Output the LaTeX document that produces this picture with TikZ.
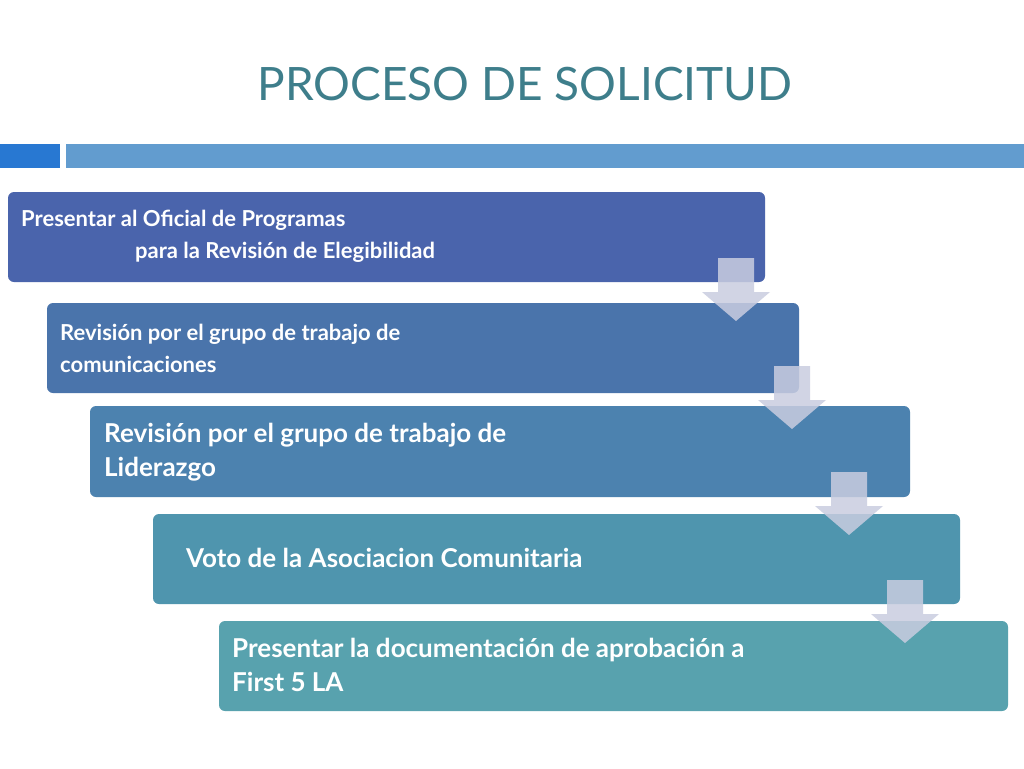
\documentclass[tikz,border=0pt]{standalone}
\usepackage{fontspec}
\setmainfont{Lato}
\begin{document}
\begin{tikzpicture}[x=1pt,y=-1pt,
 box/.style={rounded corners=6pt},
 txt/.style={anchor=west,align=left,text=white,font=\bfseries,inner sep=0pt},
 arr/.style={fill=arrc,fill opacity=0.85,draw=none}]
\definecolor{arrc}{HTML}{C9CDE0}
\useasboundingbox (0,0) rectangle (1024,768);
\fill[white] (0,0) rectangle (1024,768);
\node[font=\fontsize{46}{50}\selectfont,text=teal!60!black!80!cyan,anchor=center,inner sep=0pt] (title) at (525,84) {\color[HTML]{3E7E8B}PROCESO DE SOLICITUD};
\fill[fill={rgb,255:red,40;green,120;blue,210}] (0,144) rectangle (60,168);
\fill[fill={rgb,255:red,98;green,156;blue,207}] (66,144) rectangle (1024,168);
\fill[box,fill={rgb,255:red,74;green,100;blue,172}] (8,192) rectangle (765,282);
\fill[box,fill={rgb,255:red,74;green,116;blue,171}] (47,303) rectangle (799,393);
\fill[box,fill={rgb,255:red,76;green,130;blue,175}] (90,406) rectangle (910,497);
\fill[box,fill={rgb,255:red,79;green,149;blue,174}] (153,514) rectangle (960,604);
\fill[box,fill={rgb,255:red,88;green,162;blue,174}] (219,621) rectangle (1008,711);
\node[txt,font=\bfseries\fontsize{22}{32}\selectfont] (t1) at (21,236) {Presentar al Oficial de Programas\\\hspace*{114pt}para la Revisión de Elegibilidad};
\node[txt,font=\bfseries\fontsize{22}{32}\selectfont] (t2) at (60,348) {Revisión por el grupo de trabajo de\\comunicaciones};
\node[txt,font=\bfseries\fontsize{26}{34}\selectfont] (t3) at (104,452) {Revisión por el grupo de trabajo de\\Liderazgo};
\node[txt,font=\bfseries\fontsize{26}{34}\selectfont] (t4) at (186,558) {Voto de la Asociacion Comunitaria};
\node[txt,font=\bfseries\fontsize{26}{34}\selectfont] (t5) at (232,665) {Presentar la documentación de aprobación a\\First 5 LA};
\foreach \cx/\ty in {736/258, 792/366, 849/472, 905/580}{
 \fill[arr] (\cx-18,\ty) -- (\cx+18,\ty) -- (\cx+18,\ty+34) -- (\cx+34,\ty+34) -- (\cx,\ty+63) -- (\cx-34,\ty+34) -- (\cx-18,\ty+34) -- cycle;
}
\end{tikzpicture}
\end{document}
